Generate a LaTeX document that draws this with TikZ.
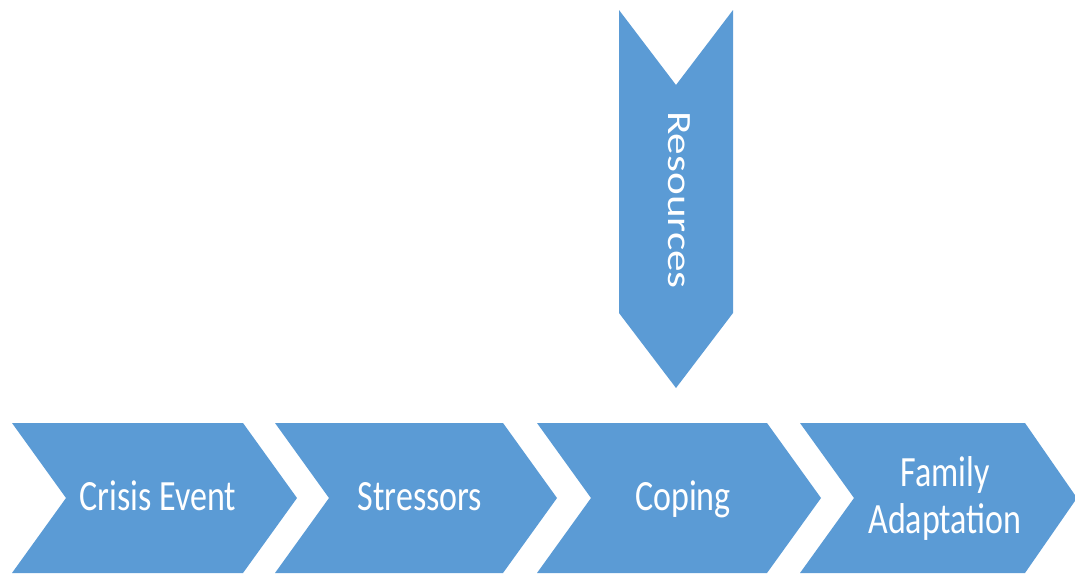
\documentclass[tikz,border=0pt]{standalone}
\usepackage{fontspec}
\setmainfont{Carlito}
\usepackage{graphicx}
\definecolor{chevblue}{RGB}{91,155,213}
\begin{document}
\begin{tikzpicture}[x=1pt,y=-1pt,
  chev/.style={fill=chevblue,draw=none},
  lbl/.style={text=white,inner sep=0pt,font=\fontsize{34}{37}\selectfont}]
\useasboundingbox (0,0) rectangle (1075,573);
% step chevrons
\fill[chev] (12,423) -- (243,423) -- (297,498) -- (243,573) -- (12,573) -- (66,498) -- cycle;
\fill[chev] (275,423) -- (503,423) -- (557,498) -- (503,573) -- (275,573) -- (329,498) -- cycle;
\fill[chev] (537,423) -- (767,423) -- (821,498) -- (767,573) -- (537,573) -- (591,498) -- cycle;
\fill[chev] (800,423) -- (1025,423) -- (1077,498) -- (1025,573) -- (800,573) -- (854,498) -- cycle;
% resources chevron
\fill[chev] (619,10) -- (676,85) -- (733,10) -- (733,313) -- (676,388) -- (619,313) -- cycle;
% labels
\node[lbl,anchor=base] (crisis) at (158,510) {\scalebox{1}[1.27]{Crisis Event}};
\node[lbl,anchor=base] (stress) at (420,510) {\scalebox{1}[1.27]{Stressors}};
\node[lbl,anchor=base] (coping) at (683,510) {\scalebox{1}[1.27]{Coping}};
\node[lbl,anchor=base] (adapt) at (945,533) {\scalebox{1}[1.27]{\begin{tabular}[b]{@{}c@{}}Family\\Adaptation\end{tabular}}};
\node[lbl,anchor=center] (res) at (679,200) {\scalebox{1}[1.27]{\rotatebox{-90}{Resources}}};
\end{tikzpicture}
\end{document}
